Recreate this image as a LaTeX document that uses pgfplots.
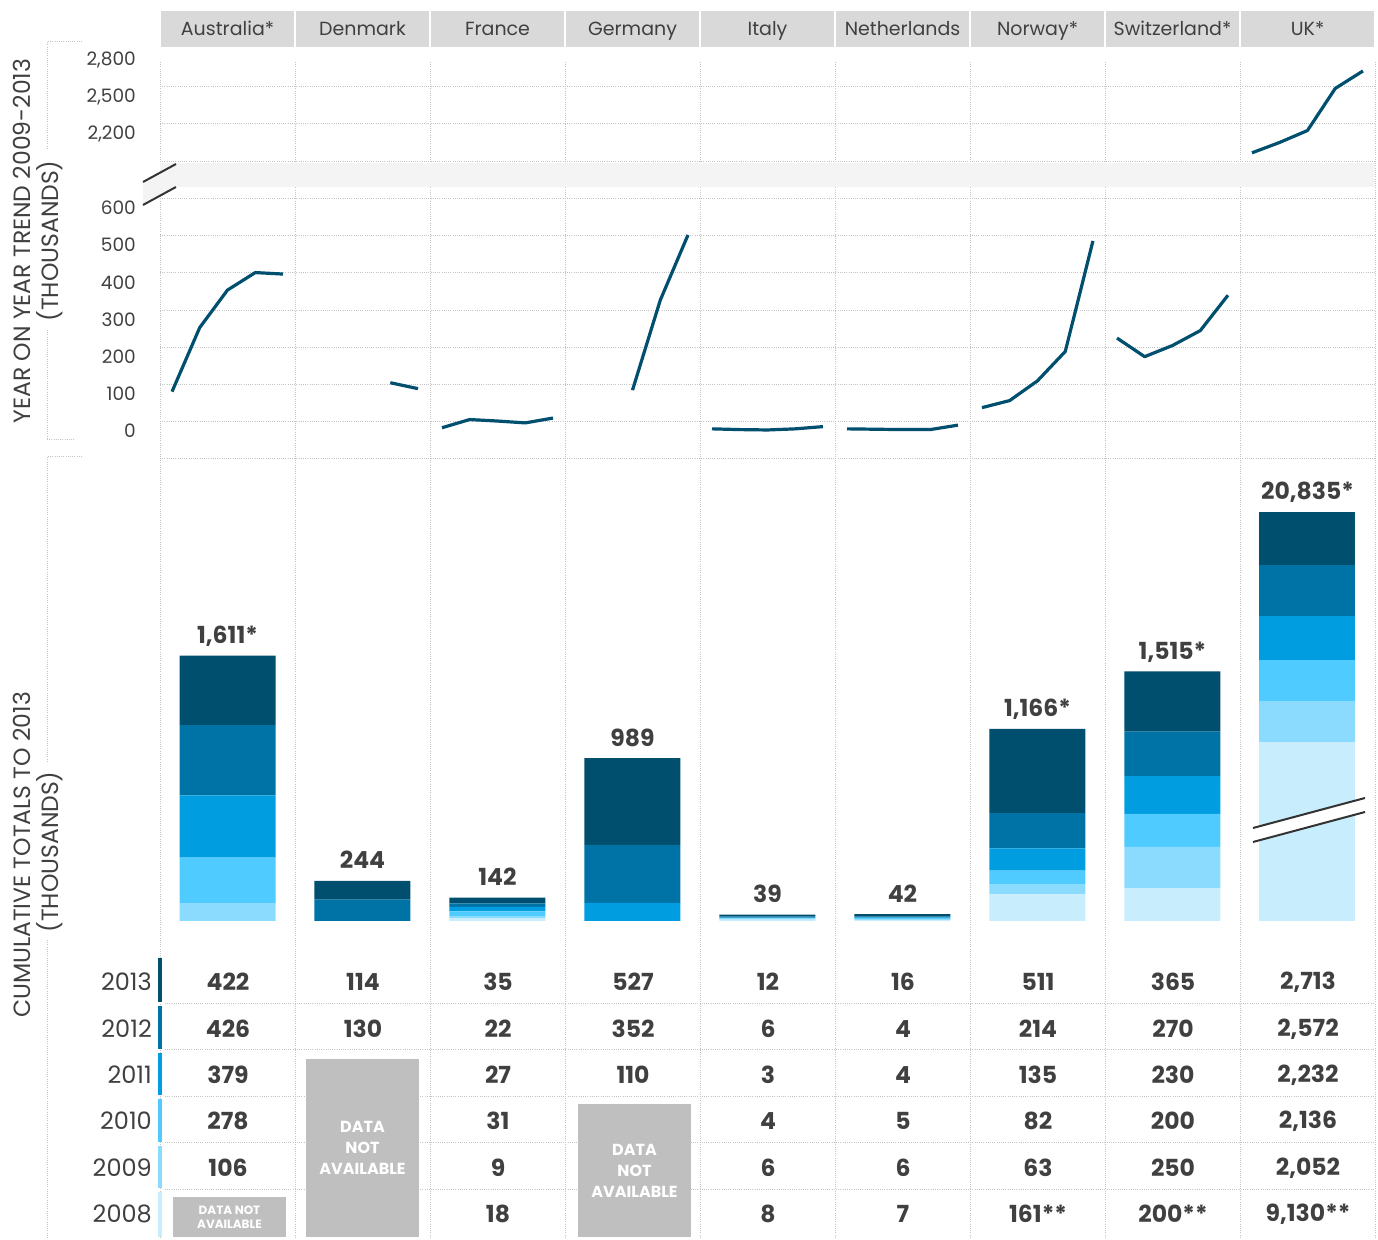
\documentclass[border=0pt]{standalone}
\usepackage{fontspec}
\setmainfont{Poppins}
\usepackage{pgfplots}
\usepackage{pgfplotstable}
\pgfplotsset{compat=1.18}
\definecolor{c13}{HTML}{004F6E}
\definecolor{c12}{HTML}{0073A6}
\definecolor{c11}{HTML}{009EE0}
\definecolor{c10}{HTML}{50CBFF}
\definecolor{c09}{HTML}{8ADBFD}
\definecolor{c08}{HTML}{C8EDFD}
\definecolor{txt}{HTML}{404040}
\definecolor{grd}{HTML}{C4C4C4}
\definecolor{hdr}{HTML}{D9D9D9}
\definecolor{na}{HTML}{BFBFBF}
\definecolor{band}{HTML}{F4F4F4}
\newcommand\fs[1]{\fontsize{#1}{#1}\selectfont}
\tikzset{dots/.style={draw=grd, line width=1pt, dash pattern=on 1pt off 1.2pt},
  trend/.style={draw=c13, line width=3.2pt, line join=round},
  tv/.style={font=\fs{23.5}\bfseries, text=txt, anchor=center, inner sep=0pt},
  lab/.style={font=\fs{23.5}\bfseries, text=txt, anchor=base, yshift=12pt, inner sep=0pt}}
\pgfplotstableread{
x  y08 y09 y10 y11 y12 y13
0  0   106 278 379 426 422
1  0   0   0   0   130 114
2  18  9   31  27  22  35
3  0   0   0   110 352 527
4  8   6   4   3   6   12
5  7   6   5   4   4   16
6  161 63  82  135 214 511
7  200 250 200 230 270 365
}\bars
\pgfplotsset{linax/.style={anchor=south west, scale only axis, width=1215pt,
  xmin=-0.5, xmax=8.5, axis line style={draw=none}, xtick=\empty,
  major tick length=0pt, clip=false,
  /pgf/number format/.cd, 1000 sep={,}, assume math mode=true, /pgfplots/.cd,
  yticklabel style={font=\fs{18.5}, text=txt, inner sep=0pt, anchor=east, xshift=-24pt},
  extra y tick labels={}, extra y tick style={grid=major},
  major grid style={dots}},
  barax/.style={anchor=south west, scale only axis, width=1215pt, height=462pt,
  xmin=-0.5, xmax=8.5, ymin=0, hide axis, ybar stacked, bar width=96pt, clip=false}}
\newcommand\trow[9]{%
 \node[tv] at (228,\rowY) {#1}; \node[tv] at (363,\rowY) {#2};
 \node[tv] at (498,\rowY) {#3}; \node[tv] at (633,\rowY) {#4};
 \node[tv] at (768,\rowY) {#5}; \node[tv] at (903,\rowY) {#6};
 \node[tv] at (1038,\rowY) {#7}; \node[tv] at (1173,\rowY) {#8};
 \node[tv] at (1308,\rowY) {#9};}
\begin{document}
\begin{tikzpicture}[x=1pt,y=1pt]
\path[use as bounding box] (0,0) rectangle (1378,1239);
% header
\foreach \n [count=\i from 0] in {Australia*,Denmark,France,Germany,Italy,Netherlands,Norway*,Switzerland*,UK*}{
  \fill[hdr] ({161+135*\i},1192) rectangle ({294+135*\i},1228);
  \node[font=\fs{19}, text=txt, anchor=base, inner sep=0pt] at ({227.5+135*\i},1203) {\n};
}
% vertical separators
\foreach \i in {0,...,9} \draw[dots] ({160+135*\i},1177) -- ({160+135*\i},0);
% row separators
\foreach \y in {235,189,142,96,49} \draw[dots] (165,\y) -- (1375,\y);
% upper trend axis
\begin{axis}[linax, at={(160pt,1076pt)}, height=109pt, ymin=1970, ymax=2850,
  ytick={2200,2500,2800}, extra y ticks={1985,2285,2585}]
\addplot[trend] coordinates {(7.589,2052) (7.794,2136) (8,2232) (8.206,2572) (8.411,2713)};
\end{axis}
% lower trend axis
\begin{axis}[linax, at={(160pt,780pt)}, height=272pt, ymin=-75, ymax=656,
  ytick={0,100,...,600}, extra y ticks={-75,25,125,225,325,425,525,625}]
\addplot[trend] coordinates {(-0.411,106) (-0.206,278) (0,379) (0.206,426) (0.411,422)};
\addplot[trend] coordinates {(1.206,130) (1.411,114)};
\addplot[trend] coordinates {(1.589,9) (1.794,31) (2,27) (2.206,22) (2.411,35)};
\addplot[trend] coordinates {(3,110) (3.206,352) (3.411,527)};
\addplot[trend] coordinates {(3.589,6) (3.794,4) (4,3) (4.206,6) (4.411,12)};
\addplot[trend] coordinates {(4.589,6) (4.794,5) (5,4) (5.206,4) (5.411,16)};
\addplot[trend] coordinates {(5.589,63) (5.794,82) (6,135) (6.206,214) (6.411,511)};
\addplot[trend] coordinates {(6.589,250) (6.794,200) (7,230) (7.206,270) (7.411,365)};
\end{axis}
% break band
\fill[band] (160,1052) rectangle (1375,1076);
\fill[band] (143,1034) -- (143,1057) -- (176,1075) -- (176,1052) -- cycle;
\draw[line width=2pt, draw=black!80] (143,1057) -- (176,1075);
\draw[line width=2pt, draw=black!80] (143,1034) -- (176,1052);
% stacked bars
\begin{axis}[barax, at={(160pt,318pt)}, ymax=2805]
\addplot[fill=c08, draw=none] table[x=x,y=y08]{\bars};
\addplot[fill=c09, draw=none] table[x=x,y=y09]{\bars};
\addplot[fill=c10, draw=none] table[x=x,y=y10]{\bars};
\addplot[fill=c11, draw=none] table[x=x,y=y11]{\bars};
\addplot[fill=c12, draw=none] table[x=x,y=y12]{\bars};
\addplot[fill=c13, draw=none] table[x=x,y=y13]{\bars};
\node[lab] at (axis cs:0,1611) {1,611*};
\node[lab] at (axis cs:1,244) {244};
\node[lab] at (axis cs:2,142) {142};
\node[lab] at (axis cs:3,989) {989};
\node[lab] at (axis cs:4,39) {39};
\node[lab] at (axis cs:5,42) {42};
\node[lab] at (axis cs:6,1166) {1,166*};
\node[lab] at (axis cs:7,1515) {1,515*};
\end{axis}
\begin{axis}[barax, at={(160pt,318pt)}, ymax=23535]
\addplot[fill=c08, draw=none] coordinates {(8,9130)};
\addplot[fill=c09, draw=none] coordinates {(8,2052)};
\addplot[fill=c10, draw=none] coordinates {(8,2136)};
\addplot[fill=c11, draw=none] coordinates {(8,2232)};
\addplot[fill=c12, draw=none] coordinates {(8,2572)};
\addplot[fill=c13, draw=none] coordinates {(8,2713)};
\node[lab] at (axis cs:8,20835) {20,835*};
\end{axis}
% UK bar break
\fill[white] (1253,397) -- (1365,427) -- (1365,441) -- (1253,411) -- cycle;
\draw[line width=2pt, draw=black!80] (1253,411) -- (1365,441);
\draw[line width=2pt, draw=black!80] (1253,397) -- (1365,427);
% year colour bars and labels
\foreach \a/\b/\c/\yr/\Y in {281/237/c13/2013/257, 233/190/c12/2012/210, 186/144/c11/2011/164, 140/97/c10/2010/118, 93/51/c09/2009/71, 47/2/c08/2008/25}{
  \fill[\c] (158,\a) rectangle (162,\b);
  \node[font=\fs{24}, text=txt, anchor=east, inner sep=0pt] at (152,\Y) {\yr};
}
% table values
\def\rowY{257}\trow{422}{114}{35}{527}{12}{16}{511}{365}{2,713}
\def\rowY{210}\trow{426}{130}{22}{352}{6}{4}{214}{270}{2,572}
\def\rowY{164}\trow{379}{}{27}{110}{3}{4}{135}{230}{2,232}
\def\rowY{118}\trow{278}{}{31}{}{4}{5}{82}{200}{2,136}
\def\rowY{71}\trow{106}{}{9}{}{6}{6}{63}{250}{2,052}
\def\rowY{25}\trow{}{}{18}{}{8}{7}{161**}{200**}{9,130**}
% data not available boxes
\fill[na] (173,2) rectangle (286,42);
\node[font=\fontsize{12}{14}\selectfont\bfseries, text=white, align=center, inner sep=0pt] at (229.5,22) {DATA NOT\\AVAILABLE};
\fill[na] (306,2) rectangle (419,180);
\node[font=\fontsize{16}{21}\selectfont\bfseries, text=white, align=center, inner sep=0pt] at (362.5,91) {DATA\\NOT\\AVAILABLE};
\fill[na] (578,2) rectangle (691,135);
\node[font=\fontsize{16}{21}\selectfont\bfseries, text=white, align=center, inner sep=0pt] at (634.5,68) {DATA\\NOT\\AVAILABLE};
% side titles and brackets
\node[rotate=90, font=\fs{23.5}, text=txt, inner sep=0pt] at (22,998) {YEAR ON YEAR TREND 2009-2013};
\node[rotate=90, font=\fs{23.5}, text=txt, inner sep=0pt] at (50,998) {(THOUSANDS)};
\node[rotate=90, font=\fs{23.5}, text=txt, inner sep=0pt] at (22,384) {CUMULATIVE TOTALS TO 2013};
\node[rotate=90, font=\fs{23.5}, text=txt, inner sep=0pt] at (50,387) {(THOUSANDS)};
\draw[dots] (82,1197) -- (47,1197) -- (47,1089);
\draw[dots] (47,909) -- (47,799) -- (75,799);
\draw[dots] (82,782) -- (47,782) -- (47,476);
\draw[dots] (47,299) -- (47,0);
\end{tikzpicture}
\end{document}
